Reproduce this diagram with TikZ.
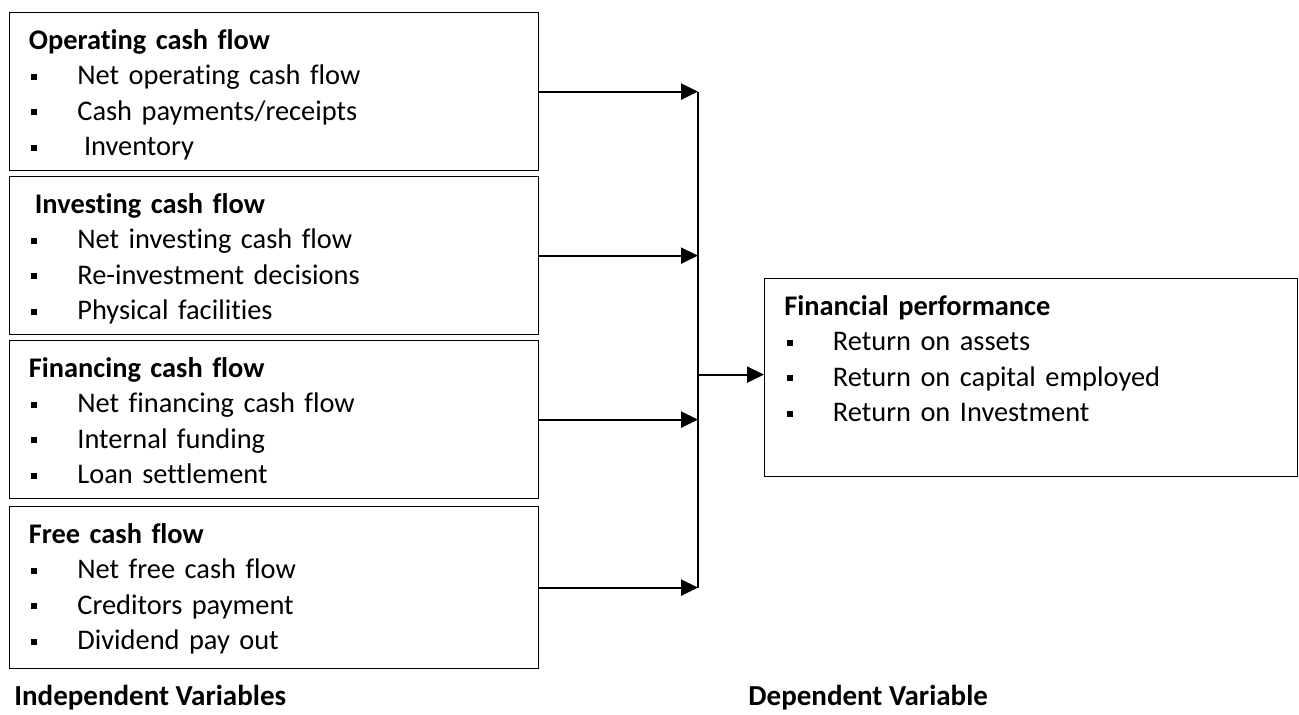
\documentclass[tikz,border=0pt]{standalone}
\usepackage{fontspec}
\setmainfont{Carlito}[Ligatures={NoCommon}]
\usetikzlibrary{arrows.meta,calc}
\newcommand{\itm}[1]{\makebox[24.25pt][l]{\hspace*{1.25pt}\rule[2.5pt]{3pt}{3pt}}#1}
\begin{document}
\begin{tikzpicture}[x=0.5pt,y=-0.5pt,
  box/.style={draw,line width=0.6pt,anchor=north west,inner sep=0pt,minimum width=#1},
  box/.default={264.5pt},
  txt/.style={anchor=base west,inner sep=0pt,align=left,text width=250pt,font=\fontsize{14.2}{17.8}\selectfont},
  lab/.style={anchor=base west,inner sep=0pt,font=\fontsize{14.5}{16}\selectfont\bfseries},
  arr/.style={line width=1pt,-{Triangle[length=8.5pt,width=8pt]}},
  ln/.style={line width=0.9pt}]
\useasboundingbox (0,0) rectangle (1299,714);
% independent variable boxes
\node[box,minimum height=79pt] (b1) at (9,12) {};
\node[box,minimum height=79pt] (b2) at (9,176) {};
\node[box,minimum height=79pt] (b3) at (9,340) {};
\node[box,minimum height=81pt] (b4) at (9,506) {};
% dependent box
\node[box=266.5pt,minimum height=99pt] (out) at (764,278) {};
% texts
\node[txt] (t1) at (28.5,49) {\textbf{Operating cash flow}\\
  \itm{Net operating cash flow}\\
  \itm{Cash payments/receipts}\\
  \itm{\hspace*{3.3pt}Inventory}};
\node[txt] (t2) at (28.5,213) {\textbf{\hspace*{3pt}Investing cash flow}\\
  \itm{Net investing cash flow}\\
  \itm{Re-investment decisions}\\
  \itm{Physical facilities}};
\node[txt] (t3) at (28.5,377) {\textbf{Financing cash flow}\\
  \itm{Net financing cash flow}\\
  \itm{Internal funding}\\
  \itm{Loan settlement}};
\node[txt] (t4) at (28.5,543) {\textbf{Free cash flow}\\
  \itm{Net free cash flow}\\
  \itm{Creditors payment}\\
  \itm{Dividend pay out}};
\node[txt] (t5) at (784,315) {\textbf{Financial performance}\\
  \itm{Return on assets}\\
  \itm{Return on capital employed}\\
  \itm{Return on Investment}};
% bottom labels
\node[lab] (l1) at (14,705) {Independent Variables};
\node[lab] (l2) at (748,705) {Dependent Variable};
% connectors
\coordinate (jx) at (698,0);
\draw[arr] (b1.east) -- (b1.east -| jx);
\draw[arr] (b2.east) -- (b2.east -| jx);
\draw[arr] (b3.east) -- (b3.east -| jx);
\draw[arr] (b4.east) -- (b4.east -| jx);
\draw[ln] (b1.east -| jx) -- (b4.east -| jx);
\draw[arr] ($(out.west -| jx)+(0,-3)$) -- ($(out.west)+(0,-3)$);
\end{tikzpicture}
\end{document}
